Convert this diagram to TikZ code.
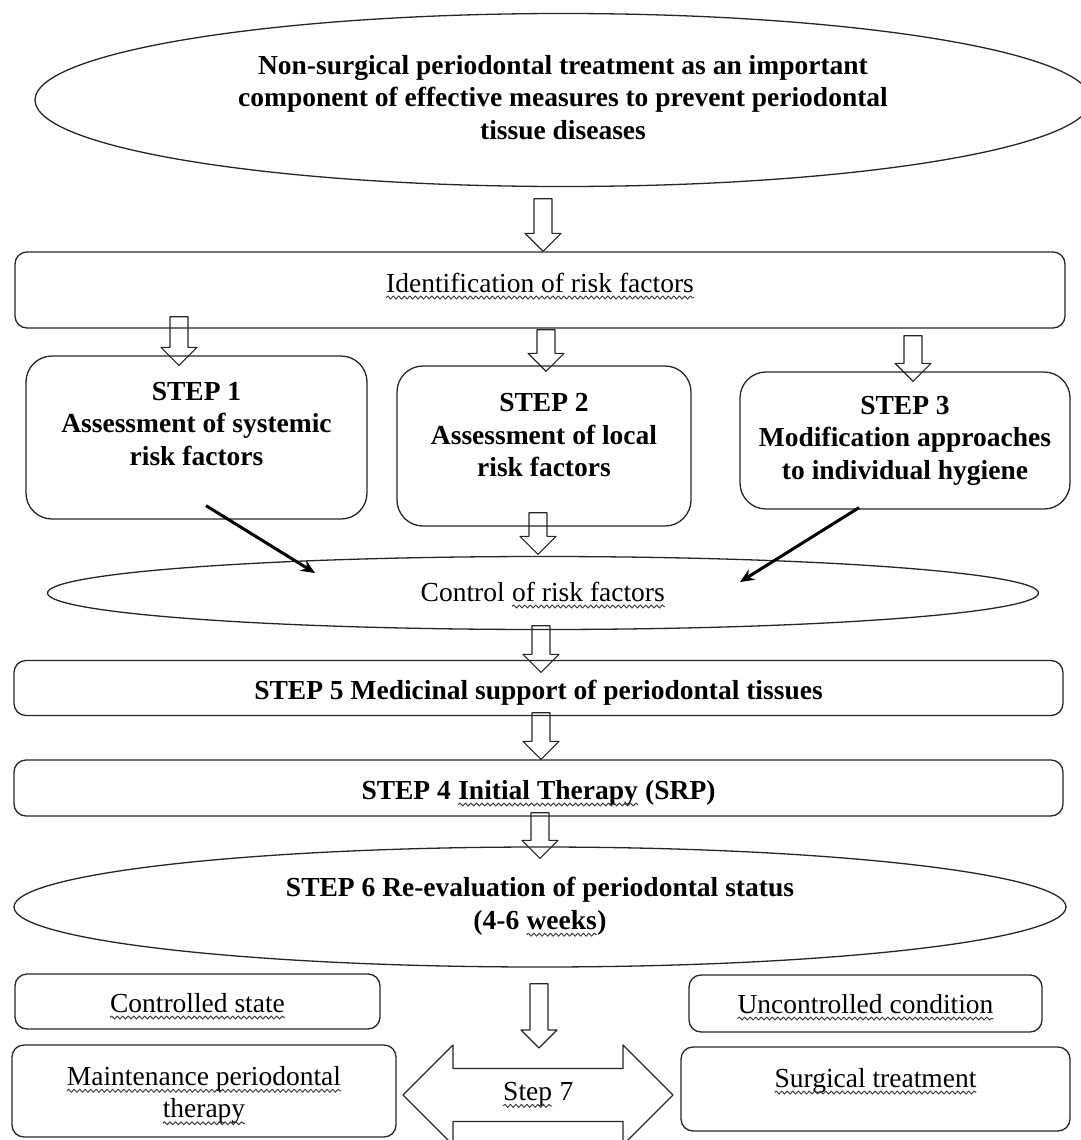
\documentclass[tikz,border=0pt]{standalone}
\usepackage{fontspec}
\setmainfont{Liberation Serif}
\usepackage{tikz}
\usetikzlibrary{arrows.meta,shapes.geometric,calc,decorations.pathmorphing}
\tikzset{%
  >={Stealth[width=12pt,length=14pt]},
  % Specifications for style of nodes:
          base/.style = {draw=black!85, line width=1.3pt, align=center,
                         inner sep=0pt, font=\fontsize{27.5}{32.5}\selectfont},
          bold/.style = {font=\fontsize{27.5}{32.5}\selectfont\bfseries},
           box/.style = {base, rectangle, rounded corners=12pt},
       stepbox/.style = {base, bold, rectangle, rounded corners=26pt},
          oval/.style = {base, ellipse},
           txt/.style 2 args = {text height=#1, text depth=#2},
       outline/.style = {draw=black!85, line width=1.3pt},
       % hollow block arrow drawn between two points
        hollow/.style = {draw=black!85, line width=1.2pt, to path={
                         ($(\tikztostart)+(-9,0)$) -- ($(\tikztotarget)+(-9,-18)$)
                         -- ($(\tikztotarget)+(-18,-18)$) -- (\tikztotarget)
                         -- ($(\tikztotarget)+(18,-18)$) -- ($(\tikztotarget)+(9,-18)$)
                         -- ($(\tikztostart)+(9,0)$) -- cycle}},
       pointer/.style = {->, line width=3pt, draw=black},
      % spell-check squiggle under a word
      squiggle/.style = {draw=black!75, line width=1pt, sharp corners, decorate,
                         decoration={snake, amplitude=1.5pt, segment length=5.5pt}}
}
\newcommand{\wavy}[1]{\tikz[baseline=(w.base)]{%
  \node (w) [shape=rectangle, draw=none, inner sep=0pt, outer sep=0pt,
             minimum width=0pt, minimum height=0pt, text height=, text depth=,
             rotate=0] {#1};
  \draw[squiggle] ([yshift=-5.5pt]w.base west) -- ([yshift=-5.5pt]w.base east);}}

\begin{document}
\begin{tikzpicture}[x=1pt, y=-1pt, line join=round]
  \useasboundingbox (0,0) rectangle (1080,1140);
  % Specification of nodes (position, etc.)
  \node (goal)  [oval, bold, text depth=6pt, minimum width=1056, minimum height=173] at (563,100)
        {Non-surgical periodontal treatment as an important\\component of effective measures to prevent periodontal\\tissue diseases};
  \node (ident) [box, txt={20pt}{16pt}, minimum width=1050, minimum height=76] at (540,290)
        {\wavy{Identification of risk factors}};

  \node (s1) [stepbox, text depth=28pt, minimum width=341, minimum height=163] at (196.5,437.5)
        {STEP 1\\Assessment of systemic\\risk factors};
  \node (s2) [stepbox, text depth=22pt, minimum width=294, minimum height=160] at (544,446)
        {STEP 2\\Assessment of local\\risk factors};
  \node (s3) [stepbox, minimum width=330, minimum height=137] at (905,440.5)
        {STEP 3\\Modification approaches\\to individual hygiene};

  \node (ctrl) [oval, txt={20pt}{4pt}, minimum width=991, minimum height=73] at (543,593)
        {Control \wavy{of risk factors}};
  \node (s5) [box, bold, txt={24pt}{2pt}, minimum width=1049, minimum height=55] at (538.5,688)
        {STEP 5 Medicinal support of periodontal tissues};
  \node (s4) [box, bold, txt={24pt}{2pt}, minimum width=1049, minimum height=56] at (538.5,788)
        {STEP 4 \wavy{Initial Therapy} (SRP)};
  \node (s6) [oval, bold, minimum width=1052, minimum height=120] at (540,907)
        {STEP 6 Re-evaluation of periodontal status\\(4-6 \wavy{weeks})};

  \node (ok)    [box, txt={24pt}{3pt}, minimum width=365, minimum height=55] at (197.5,1001.5)
        {\wavy{Controlled state}};
  \node (notok) [box, txt={24pt}{5pt}, minimum width=353, minimum height=57] at (865.5,1003.5)
        {\wavy{Uncontrolled condition}};
  \node (keep)  [box, text height=61pt, minimum width=384, minimum height=92] at (204,1091)
        {\wavy{Maintenance periodontal}\\\wavy{therapy}};
  \node (surg)  [box, txt={20pt}{24pt}, minimum width=389, minimum height=84] at (875.5,1089)
        {\wavy{Surgical treatment}};
  \node (step7) [base, draw=none] at (538,1095) {\wavy{Step} 7};
  \draw[outline] ($(step7)+(-135,0)$) -- ++(50,-50) -- ++(0,23.5) -- ++(170,0)
        -- ++(0,-23.5) -- ++(50,50) -- ++(-50,50) -- ++(0,-23.5) -- ++(-170,0)
        -- ++(0,23.5) -- cycle;

  % block arrows
  \draw[hollow] ($(goal.south)+(-20,11.5)$) to ($(ident.north)+(3,0)$);
  \draw[hollow] ($(ident.south)+(-361,-12)$) to ($(s1.north)+(-17.5,10)$);
  \draw[hollow] ($(ident.south)+(6,1)$) to ($(s2.north)+(2,6)$);
  \draw[hollow] ($(ident.south)+(373,7)$) to ($(s3.north)+(8,10)$);
  \draw[hollow] ($(s2.south)+(-6,-14)$) to ($(ctrl.north)+(-5,-1.5)$);
  \draw[hollow] ($(ctrl.south)+(-2,-4.5)$) to ($(s5.north)+(2.5,12.5)$);
  \draw[hollow] ($(s5.south)+(2.5,-3.5)$) to ($(s4.north)+(2.5,0)$);
  \draw[hollow] ($(s4.south)+(1.5,-4)$) to ($(s6.north)+(0,12)$);
  \draw[hollow] ($(s6.south)+(-1,16)$) to ($(step7)+(1,-47)$);

  \draw[pointer] ($(s1.south)+(9.5,-14)$) -- ($(ctrl.center)+(-228,-20)$);
  \draw[pointer] ($(s3.south)+(-46,-2)$) -- ($(ctrl.center)+(197,-11)$);
\end{tikzpicture}
\end{document}
